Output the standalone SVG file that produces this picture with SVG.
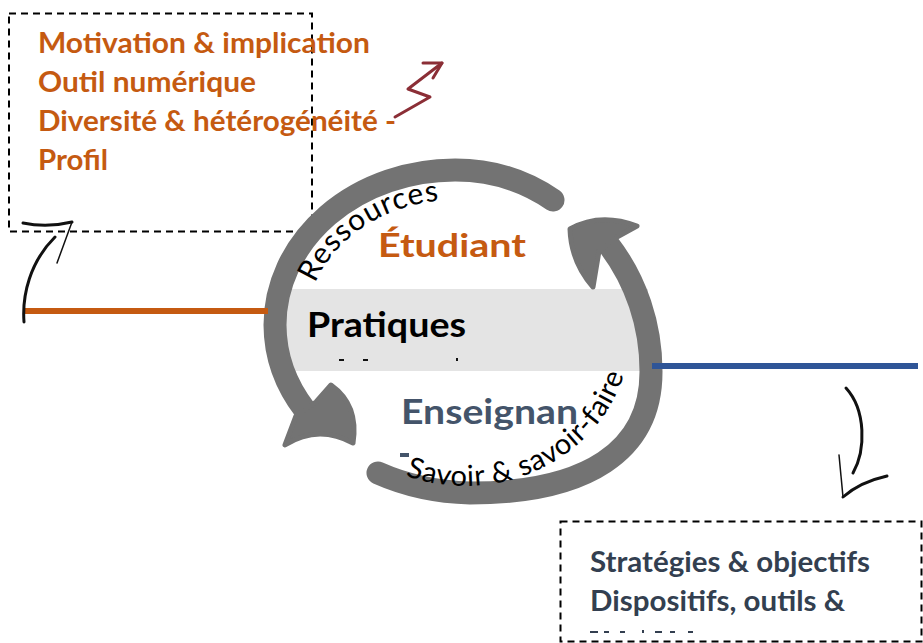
<svg xmlns="http://www.w3.org/2000/svg" width="923" height="643" viewBox="0 0 923 643">
<style>
.t{font-family:Lato,"Open Sans","Liberation Sans",sans-serif;font-weight:bold}
.r{font-family:Lato,"Open Sans","Liberation Sans",sans-serif;font-weight:normal}
.or{fill:#C55A11}
.sl{fill:#44546A}
.dk{fill:#333F50}
.dash{fill:none;stroke:#000;stroke-width:2;stroke-dasharray:7 5}
.ring{fill:none;stroke:#737373;stroke-width:23;stroke-linecap:round}
.head{fill:#737373;stroke:#737373;stroke-width:5;stroke-linejoin:round}
.brush{fill:none;stroke:#111;stroke-linecap:round;stroke-linejoin:round}
</style>
<defs>
<path id="pRes" d="M305,330 A150,130 0 0 1 605,330"/>
<path id="pSav" d="M299,330 A166,156 0 0 0 631,330"/>
</defs>
<rect width="923" height="643" fill="#fff"/>

<g id="box-etudiant">
<rect class="dash" x="9" y="13.5" width="303" height="218"/>
<text class="t or" font-size="28" x="38" y="53" textLength="332" lengthAdjust="spacingAndGlyphs">Motivation &amp; implication</text>
<text class="t or" font-size="28" x="38" y="92" textLength="218" lengthAdjust="spacingAndGlyphs">Outil numérique</text>
<text class="t or" font-size="28" x="38" y="131" textLength="358" lengthAdjust="spacingAndGlyphs">Diversité &amp; hétérogénéité -</text>
<text class="t or" font-size="28" x="38" y="170" textLength="70" lengthAdjust="spacingAndGlyphs">Profil</text>
</g>

<g id="box-enseignant">
<rect class="dash" x="560.5" y="521.5" width="361" height="120" stroke="#222"/>
<text class="t dk" font-size="28" x="590" y="572" textLength="280" lengthAdjust="spacingAndGlyphs">Stratégies &amp; objectifs</text>
<text class="t dk" font-size="28" x="590" y="611" textLength="255" lengthAdjust="spacingAndGlyphs">Dispositifs, outils &amp;</text>
<g fill="#333F50">
<rect x="590" y="631" width="8" height="2"/><rect x="604" y="631" width="5" height="2"/><rect x="620" y="631" width="5" height="2"/><rect x="642" y="630" width="2" height="3"/><rect x="655" y="631" width="7" height="2"/><rect x="670" y="631" width="5" height="2"/><rect x="688" y="631" width="5" height="2"/>
</g>
</g>

<g id="pratiques">
<rect x="285" y="289" width="363" height="82" fill="#E4E4E4"/>
<text class="t" font-size="34" fill="#000" x="307" y="337" textLength="159" lengthAdjust="spacingAndGlyphs">Pratiques</text>
<g fill="#111"><rect x="339" y="359" width="5" height="2"/><rect x="363" y="359" width="5" height="2"/><rect x="456" y="358" width="2" height="3"/></g>
</g>

<g id="cycle">
<path class="ring" d="M553,200 A165,155 0 0 0 455,170 A180,155 0 0 0 275,325 A180,155 0 0 0 305,410"/>
<path class="head" d="M285,445 Q318,424 353,443 Q359,405 331,385 L316,402 L296,416 Z"/>
<path class="ring" d="M378,473 A182,125 0 0 0 470,493 C587,493 651,451 651,372 A186,199 0 0 0 608,244"/>
<path class="head" d="M570,229 Q600,212 637,226 L617,237 L599,251 L593,287 Q571,262 570,229 Z"/>
</g>

<g id="etudiant"><text class="t or" font-size="32" x="378" y="257" textLength="148" lengthAdjust="spacingAndGlyphs">Étudiant</text></g>
<g id="enseignant">
<text class="t sl" font-size="34" x="401" y="424" textLength="177" lengthAdjust="spacingAndGlyphs">Enseignan</text>
<rect x="400" y="453" width="9" height="4" fill="#44546A"/>
</g>

<g id="arc-labels">
<text class="r" font-size="30" fill="#000"><textPath href="#pRes" startOffset="48" textLength="156" lengthAdjust="spacing">Ressources</textPath></text>
<text class="r" font-size="29" fill="#000"><textPath href="#pSav" startOffset="192" textLength="268" lengthAdjust="spacing">Savoir &amp; savoir-faire</textPath></text>
</g>

<g id="connectors">
<line x1="25" y1="311" x2="268" y2="311" stroke="#C55A11" stroke-width="6"/>
<line x1="652" y1="366" x2="918" y2="366" stroke="#2F5597" stroke-width="6"/>
<path class="brush" stroke-width="3" d="M24,322 C22,295 30,262 55,237"/>
<path class="brush" stroke-width="3" d="M23,223 Q47,228 72,222"/>
<path class="brush" stroke-width="1.5" d="M57,263 L72,222"/>
<path class="brush" stroke-width="3" d="M846,388 C866,410 866,450 853,473"/>
<path class="brush" stroke-width="1.5" d="M839,455 L843,497"/>
<path class="brush" stroke-width="3" d="M843,497 Q860,482 887,476"/>
<polyline points="395,117 430,97 408,89 442,63" fill="none" stroke="#8B2E36" stroke-width="3" stroke-linecap="round" stroke-linejoin="round"/>
<polyline points="423,63 442,63 433,78" fill="none" stroke="#8B2E36" stroke-width="3" stroke-linecap="round" stroke-linejoin="round"/>
</g>
</svg>
